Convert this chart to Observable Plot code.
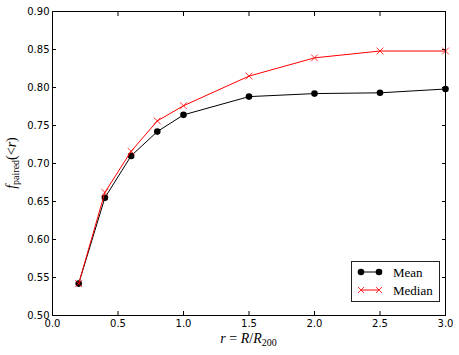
<!DOCTYPE html>
<html><head><meta charset="utf-8">
<script src="https://cdn.jsdelivr.net/npm/d3@7"></script>
<script src="https://cdn.jsdelivr.net/npm/@observablehq/plot@0.6"></script>
<style>
body{margin:0;background:#fff}
#chart{position:relative;width:459px;height:355px}
#legend{position:absolute;left:351px;top:261px;width:87px;height:39px;border:1px solid #222;background:#fff;font-family:"Liberation Serif",serif;font-size:13px}
</style>
</head><body><div id="chart"></div>
<script>
const radii = [0.2, 0.4, 0.6, 0.8, 1.0, 1.5, 2.0, 2.5, 3.0];
const meanValues = [0.542, 0.655, 0.710, 0.742, 0.764, 0.788, 0.792, 0.793, 0.798];
const medianValues = [0.542, 0.662, 0.716, 0.756, 0.776, 0.815, 0.839, 0.848, 0.848];
const seriesNames = ["Mean", "Median"];
const seriesColors = ["#000000", "#ff0000"];
const xTicks = [0.0, 0.5, 1.0, 1.5, 2.0, 2.5, 3.0];
const yTicks = [0.50, 0.55, 0.60, 0.65, 0.70, 0.75, 0.80, 0.85, 0.90];

const meanData = radii.map((r, i) => ({r, v: meanValues[i]}));
const medianData = radii.map((r, i) => ({r, v: medianValues[i]}));
const blank = () => "";

const plot = Plot.plot({
  width: 459, height: 355,
  marginLeft: 52, marginRight: 14, marginTop: 11, marginBottom: 40,
  style: {fontFamily: "DejaVu Sans", fontSize: "10px", color: "#000", background: "#fff"},
  x: {domain: [0, 3]},
  y: {domain: [0.5, 0.9]},
  marks: [
    Plot.axisX({anchor: "bottom", ticks: xTicks, tickSize: 0, tickPadding: 4, tickFormat: d3.format(".1f"), label: null}),
    Plot.axisX({anchor: "bottom", ticks: xTicks, tickSize: -4, tickFormat: blank, label: null}),
    Plot.axisX({anchor: "top", ticks: xTicks, tickSize: -4, tickFormat: blank, label: null}),
    Plot.axisY({anchor: "left", ticks: yTicks, tickSize: 0, tickPadding: 3, tickFormat: d3.format(".2f"), label: null}),
    Plot.axisY({anchor: "left", ticks: yTicks, tickSize: -4, tickFormat: blank, label: null}),
    Plot.axisY({anchor: "right", ticks: yTicks, tickSize: -4, tickFormat: blank, label: null}),
    Plot.line(meanData, {x: "r", y: "v", stroke: seriesColors[0], strokeWidth: 1}),
    Plot.dot(meanData, {x: "r", y: "v", fill: seriesColors[0], r: 3.3, stroke: null}),
    Plot.line(medianData, {x: "r", y: "v", stroke: seriesColors[1], strokeWidth: 1}),
    Plot.dot(medianData, {x: "r", y: "v", symbol: "times", stroke: seriesColors[1], strokeWidth: 0.8, r: 3.2}),
    Plot.frame({stroke: "#000", strokeWidth: 1})
  ]
});

const chart = document.getElementById("chart");
chart.appendChild(plot);
const svg = d3.select(plot);

// x label: r = R/R_200
const xl = svg.append("text")
  .attr("x", 248.5).attr("y", 343)
  .attr("text-anchor", "middle")
  .style("font-family", "Liberation Serif, serif").style("font-size", "14px");
xl.append("tspan").style("font-style", "italic").text("r");
xl.append("tspan").text(" = ");
xl.append("tspan").style("font-style", "italic").text("R");
xl.append("tspan").text("/");
xl.append("tspan").style("font-style", "italic").text("R");
xl.append("tspan").attr("dy", 3).style("font-size", "10px").text("200");

// y label: f_paired(<r)
const yl = svg.append("text")
  .attr("transform", "translate(16,163) rotate(-90)")
  .attr("text-anchor", "middle")
  .style("font-family", "Liberation Serif, serif").style("font-size", "14px");
yl.append("tspan").style("font-style", "italic").text("f");
yl.append("tspan").attr("dy", 3).style("font-size", "10px").text("paired");
yl.append("tspan").attr("dy", -3).text("(<");
yl.append("tspan").style("font-style", "italic").text("r");
yl.append("tspan").text(")");

// legend
const legend = document.createElement("div");
legend.id = "legend";
chart.appendChild(legend);
const lsvg = d3.select(legend).append("svg").attr("width", 87).attr("height", 39);
seriesNames.forEach((name, i) => {
  const y = 10 + i * 18;
  lsvg.append("line").attr("x1", 9).attr("x2", 27).attr("y1", y).attr("y2", y)
    .attr("stroke", seriesColors[i]).attr("stroke-width", 1);
  [9, 27].forEach(cx => {
    if (i === 0) {
      lsvg.append("circle").attr("cx", cx).attr("cy", y).attr("r", 3.3).attr("fill", seriesColors[i]);
    } else {
      lsvg.append("path").attr("d", `M${cx-3},${y-3}L${cx+3},${y+3}M${cx-3},${y+3}L${cx+3},${y-3}`)
        .attr("stroke", seriesColors[i]).attr("stroke-width", 0.8);
    }
  });
  lsvg.append("text").attr("x", 41).attr("y", y + 4.5).text(name);
});
</script>
</body></html>
